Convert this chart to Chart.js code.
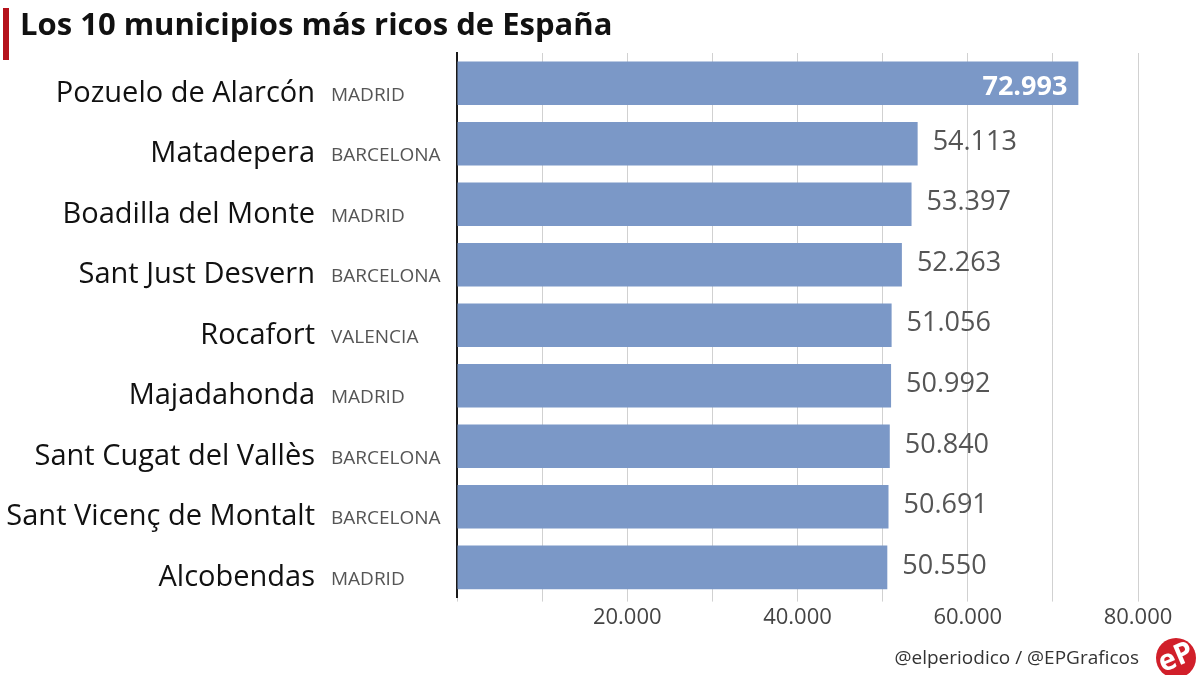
<!DOCTYPE html>
<html>
<head>
<meta charset="utf-8">
<script src="https://cdn.jsdelivr.net/npm/chart.js@4/dist/chart.umd.min.js"></script>
<style>
  html, body { margin: 0; padding: 0; background: #fff; }
  #wrap { width: 1200px; height: 675px; }
</style>
</head>
<body>
<div id="wrap"><canvas id="chart"></canvas></div>
<script>
const municipios = ['Pozuelo de Alarcón', 'Matadepera', 'Boadilla del Monte', 'Sant Just Desvern', 'Rocafort', 'Majadahonda', 'Sant Cugat del Vallès', 'Sant Vicenç de Montalt', 'Alcobendas'];
const provincias = ['MADRID', 'BARCELONA', 'MADRID', 'BARCELONA', 'VALENCIA', 'MADRID', 'BARCELONA', 'BARCELONA', 'MADRID'];
const renta = [72993, 54113, 53397, 52263, 51056, 50992, 50840, 50691, 50550];
const xTicks = [20000, 40000, 60000, 80000];
const titulo = 'Los 10 municipios más ricos de España';
const firma = '@elperiodico / @EPGraficos';

const FONT = "'Open Sans', 'Noto Sans', sans-serif";

function fmt(v) {
    return String(v).replace(/\B(?=(\d{3})+(?!\d))/g, '.');
}

// etiquetas de valor al final de cada barra
const valueLabels = {
    id: 'valueLabels',
    afterDatasetsDraw(chart) {
        const ctx = chart.ctx;
        const meta = chart.getDatasetMeta(0);
        ctx.save();
        ctx.textBaseline = 'middle';
        meta.data.forEach(function (bar, i) {
            if (i === 0) {
                ctx.font = 'bold 27px ' + FONT;
                ctx.fillStyle = '#ffffff';
                ctx.textAlign = 'right';
                ctx.fillText(fmt(renta[i]), bar.x - 11, bar.y + 4);
            } else {
                ctx.font = '27px ' + FONT;
                ctx.fillStyle = '#555555';
                ctx.textAlign = 'left';
                ctx.fillText(fmt(renta[i]), bar.x + 15, bar.y - 1.5);
            }
        });
        ctx.restore();
    }
};

// titulo con barra roja, firma y logo
const decor = {
    id: 'decor',
    afterDraw(chart) {
        const ctx = chart.ctx;
        ctx.save();
        ctx.fillStyle = '#b5121b';
        ctx.fillRect(3, 8, 6, 52);

        ctx.font = 'bold 31px ' + FONT;
        ctx.fillStyle = '#111111';
        ctx.textAlign = 'left';
        ctx.textBaseline = 'alphabetic';
        ctx.fillText(titulo, 20, 35);

        ctx.font = '19px ' + FONT;
        ctx.fillStyle = '#333333';
        ctx.textAlign = 'right';
        ctx.fillText(firma, 1139, 664);

        ctx.beginPath();
        ctx.arc(1176, 658, 20, 0, Math.PI * 2);
        ctx.fillStyle = '#d11f2a';
        ctx.fill();
        ctx.translate(1176, 658);
        ctx.rotate(-0.4);
        ctx.font = 'bold 29px ' + FONT;
        ctx.fillStyle = '#ffffff';
        ctx.textAlign = 'center';
        ctx.textBaseline = 'middle';
        ctx.fillText('eP', 0, 0);
        ctx.restore();
    }
};

new Chart(document.getElementById('chart'), {
    type: 'bar',
    data: {
        labels: municipios,
        datasets: [{
            data: renta,
            backgroundColor: '#7b98c7',
            borderWidth: 0,
            barPercentage: 0.72,
            categoryPercentage: 1.0
        }]
    },
    options: {
        indexAxis: 'y',
        responsive: true,
        maintainAspectRatio: false,
        animation: false,
        devicePixelRatio: 1,
        layout: {
            padding: { left: 0, right: 62, top: 53, bottom: 41 }
        },
        plugins: {
            legend: { display: false },
            tooltip: { enabled: false },
            title: { display: false }
        },
        scales: {
            x: {
                type: 'linear',
                min: 0,
                max: 80000,
                position: 'bottom',
                z: 1,
                border: { display: false },
                grid: {
                    color: 'rgba(0,0,0,0.18)',
                    lineWidth: 1,
                    drawTicks: true,
                    tickLength: 4,
                    tickColor: 'rgba(0,0,0,0.18)'
                },
                ticks: {
                    stepSize: 10000,
                    autoSkip: false,
                    maxRotation: 0,
                    padding: 3,
                    color: '#444444',
                    font: { family: FONT, size: 22 },
                    callback: function (v) {
                        return xTicks.includes(v) ? fmt(v) : '';
                    }
                }
            },
            y: {
                type: 'category',
                labels: provincias,
                position: 'left',
                weight: 0,
                offset: true,
                grid: { display: false, drawTicks: false },
                border: { display: true, color: '#1a1a1a', width: 2 },
                ticks: {
                    crossAlign: 'far',
                    padding: 0,
                    labelOffset: 12,
                    color: '#555555',
                    font: { family: FONT, size: 19 }
                },
                afterFit: function (scale) { scale.width = 126; }
            },
            nombres: {
                type: 'category',
                labels: municipios,
                position: 'left',
                weight: 1,
                offset: true,
                grid: { display: false, drawTicks: false },
                border: { display: false },
                ticks: {
                    padding: 16,
                    labelOffset: 10,
                    color: '#111111',
                    font: { family: FONT, size: 29 }
                },
                afterFit: function (scale) { scale.width = 331; }
            }
        }
    },
    plugins: [valueLabels, decor]
});
</script>
</body>
</html>
